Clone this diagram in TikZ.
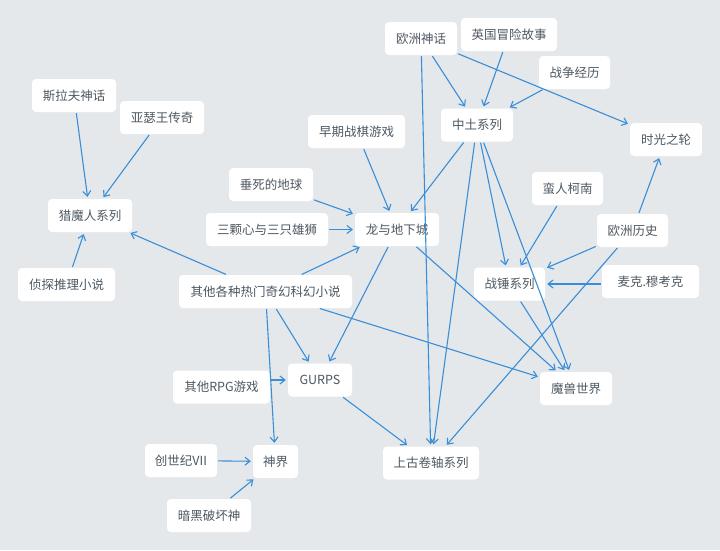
\documentclass[tikz,border=0pt]{standalone}
\usepackage{fontspec}
\setmainfont{Noto Sans CJK SC}
\usetikzlibrary{arrows.meta}
\definecolor{bg}{HTML}{E5E8EB}
\definecolor{edgeblue}{HTML}{3A8ED8}
\definecolor{txt}{HTML}{4E5862}
\tikzset{
  box/.style={fill=white, rounded corners=4pt, minimum height=33pt, inner sep=0pt,
    text=txt, font=\fontsize{12.5}{15}\selectfont},
  link/.style={draw=edgeblue, line width=1.1pt, shorten <=1pt, shorten >=2pt,
    -{Straight Barb[length=5pt,width=8pt]}}
}
\begin{document}
\begin{tikzpicture}[x=1pt,y=-1pt]
\fill[bg] (0,0) rectangle (720,550);
\useasboundingbox (0,0) rectangle (720,550);
% nodes
\node[box, minimum width=84pt] (slav) at (74,95.5) {斯拉夫神话};
\node[box, minimum width=84pt] (arthur) at (162,117.5) {亚瑟王传奇};
\node[box, minimum width=84pt] (witcher) at (90,215.5) {猎魔人系列};
\node[box, minimum width=97pt] (detective) at (66.5,284.5) {侦探推理小说};
\node[box, minimum width=173pt] (novels) at (265.5,291.5) {其他各种热门奇幻科幻小说};
\node[box, minimum width=97pt] (wargame) at (356.5,131.5) {早期战棋游戏};
\node[box, minimum width=84pt] (dying) at (271,184.5) {垂死的地球};
\node[box, minimum width=122pt] (hearts) at (267,229.5) {三颗心与三只雄狮};
\node[box, minimum width=84pt] (dnd) at (397,229.5) {龙与地下城};
\node[box, minimum width=72pt] (eumyth) at (421,38.5) {欧洲神话};
\node[box, minimum width=96pt] (brit) at (509,34.5) {英国冒险故事};
\node[box, minimum width=71pt] (war) at (574.5,72.5) {战争经历};
\node[box, minimum width=72pt] (middle) at (477,125) {中土系列};
\node[box, minimum width=72pt] (wot) at (666,139.5) {时光之轮};
\node[box, minimum width=71pt] (conan) at (567.5,188.5) {蛮人柯南};
\node[box, minimum width=71pt] (euhist) at (632.5,230.5) {欧洲历史};
\node[box, minimum width=71pt] (hammer) at (509.5,284) {战锤系列};
\node[box, minimum width=97pt] (moorcock) at (650.5,281.5) {麦克.穆考克};
\node[box, minimum width=72pt] (wow) at (576,388.5) {魔兽世界};
\node[box, minimum width=64pt] (gurps) at (320,380) {GURPS};
\node[box, minimum width=97pt] (rpg) at (221.5,387) {其他RPG游戏};
\node[box, minimum width=72pt] (ultima) at (181,460.5) {创世纪VII};
\node[box, minimum width=45pt] (divinity) at (275.5,461.5) {神界};
\node[box, minimum width=96pt] (scrolls) at (431,463) {上古卷轴系列};
\node[box, minimum width=84pt] (diablo) at (209,515.5) {暗黑破坏神};
% edges
\draw[link] (slav) -- (witcher);
\draw[link] (arthur) -- (witcher);
\draw[link] (detective) -- (witcher);
\draw[link] (novels) -- (witcher);
\draw[link] (novels) -- (dnd);
\draw[link] (novels) -- (gurps);
\draw[link] (novels) -- (divinity);
\draw[link] (novels) -- (wow);
\draw[link] (dying) -- (dnd);
\draw[link] (hearts) -- (dnd);
\draw[link] (wargame) -- (dnd);
\draw[link] (middle) -- (dnd);
\draw[link] (dnd) -- (gurps);
\draw[link] (dnd) -- (wow);
\draw[link] (eumyth) -- (middle);
\draw[link] (eumyth) -- (scrolls);
\draw[link] (eumyth) -- (wot);
\draw[link] (brit) -- (middle);
\draw[link] (war) -- (middle);
\draw[link] (middle) -- (scrolls);
\draw[link] (middle) -- (hammer);
\draw[link] (middle) -- (wow);
\draw[link] (conan) -- (hammer);
\draw[link] (euhist) -- (hammer);
\draw[link] (moorcock.west |- hammer) -- (hammer.east);
\draw[link] (euhist) -- (wot);
\draw[link] (euhist) -- (scrolls);
\draw[link] (hammer) -- (wow);
\draw[link] (gurps) -- (scrolls);
\draw[link] (rpg.east |- gurps) -- (gurps.west);
\draw[link] (ultima) -- (divinity);
\draw[link] (diablo) -- (divinity);
\end{tikzpicture}
\end{document}
